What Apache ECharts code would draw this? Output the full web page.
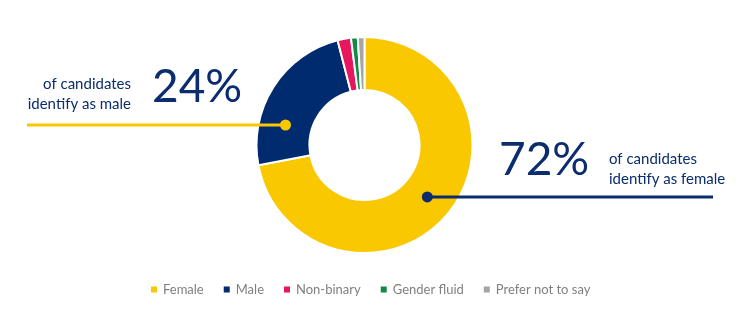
<!DOCTYPE html>
<html>
<head>
<meta charset="utf-8">
<script src="https://cdn.jsdelivr.net/npm/echarts@6/dist/echarts.min.js"></script>
<style>
  html, body { margin: 0; padding: 0; background: #fff; }
  #chart { width: 752px; height: 332px; }
</style>
</head>
<body>
<div id="chart"></div>
<script>
// Gender identity of candidates (percent)
const categories = ['Female', 'Male', 'Non-binary', 'Gender fluid', 'Prefer not to say'];
const shares = [72, 24, 2, 1, 1];
const colors = ['#F9C800', '#002B6E', '#E8175D', '#138A3F', '#A5A5A5'];

const FONT = 'Lato, "Open Sans", sans-serif';
const NAVY = '#0B2C6E';

const cx = 364.5, cy = 145, rIn = 55, rOut = 108;
const rMid = (rIn + rOut) / 2;
const total = shares.reduce((a, b) => a + b, 0);

// start angle (clockwise from 12 o'clock) of each slice
const starts = [];
shares.reduce((acc, v) => { starts.push(acc); return acc + v; }, 0);

// point on the ring's midline at a given clockwise angle (degrees from top)
function ringPoint(deg) {
  const a = deg * Math.PI / 180;
  return [cx + rMid * Math.sin(a), cy - rMid * Math.cos(a)];
}

// Female marker: middle of its slice
const femaleDeg = (starts[0] + shares[0] / 2) / total * 360;
const pF = ringPoint(femaleDeg);
// Male marker: just above the horizontal inside the Male slice
const maleDeg = starts[1] / total * 360 + 25;
const pM = ringPoint(maleDeg);

const chart = echarts.init(document.getElementById('chart'));
chart.setOption({
  animation: false,
  color: colors,
  legend: {
    bottom: 31,
    left: 144,
    icon: 'rect',
    itemWidth: 8,
    itemHeight: 8,
    itemGap: 18,
    textStyle: { color: '#7F7F7F', fontSize: 13, fontFamily: FONT },
    data: categories
  },
  series: [{
    type: 'pie',
    center: [cx, cy],
    radius: [rIn, rOut],
    startAngle: 90,
    clockwise: true,
    label: { show: false },
    labelLine: { show: false },
    emphasis: { disabled: true },
    itemStyle: { borderColor: '#fff', borderWidth: 2 },
    data: categories.map((c, i) => ({ name: c, value: shares[i] }))
  }],
  graphic: [
    // male callout
    { type: 'line', z: 10, shape: { x1: 27, y1: pM[1], x2: pM[0], y2: pM[1] },
      style: { stroke: '#F9C800', lineWidth: 3 } },
    { type: 'circle', z: 11, shape: { cx: pM[0], cy: pM[1], r: 5.5 }, style: { fill: '#F9C800' } },
    { type: 'text', z: 12, left: 152, top: 64,
      style: { text: shares[1] + '%', fill: NAVY, font: '46px ' + FONT } },
    { type: 'text', z: 12, x: 131, y: 74,
      style: { text: 'of candidates\nidentify as male', fill: NAVY, font: '15px ' + FONT,
               align: 'right', verticalAlign: 'top', lineHeight: 20 } },
    // female callout
    { type: 'line', z: 10, shape: { x1: pF[0], y1: pF[1], x2: 713, y2: pF[1] },
      style: { stroke: NAVY, lineWidth: 3 } },
    { type: 'circle', z: 11, shape: { cx: pF[0], cy: pF[1], r: 5.5 }, style: { fill: NAVY } },
    { type: 'text', z: 12, left: 499, top: 137,
      style: { text: shares[0] + '%', fill: NAVY, font: '46px ' + FONT } },
    { type: 'text', z: 12, left: 609, top: 149,
      style: { text: 'of candidates\nidentify as female', fill: NAVY, font: '15px ' + FONT,
               lineHeight: 20 } }
  ]
});
</script>
</body>
</html>
